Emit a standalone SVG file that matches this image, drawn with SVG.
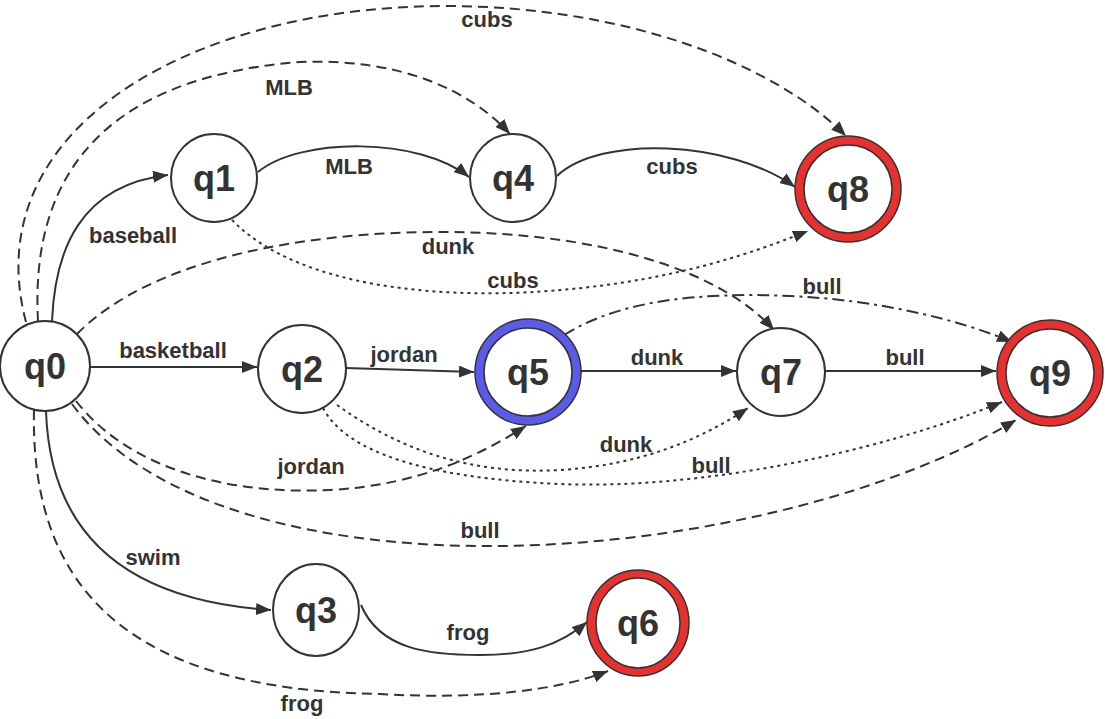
<svg xmlns="http://www.w3.org/2000/svg" width="1105" height="719" viewBox="0 0 1105 719">
<style>
.e{fill:none;stroke:#333;stroke-width:2;marker-end:url(#ah)}
.da{stroke-dasharray:10 6}
.dt{stroke-dasharray:3 4}
.dd{stroke-dasharray:12 5 3 5}
.n{fill:#fff;stroke:#333;stroke-width:2}
.o{stroke:#333;stroke-width:1.5}
.nt{font-family:"Liberation Sans",Arial,sans-serif;font-weight:bold;font-size:36px;fill:#333;text-anchor:middle}
.lt{font-family:"Liberation Sans",Arial,sans-serif;font-weight:bold;font-size:22px;fill:#333;text-anchor:middle}
</style>
<defs>
<marker id="ah" markerUnits="userSpaceOnUse" markerWidth="16" markerHeight="12" refX="15" refY="6" orient="auto">
<path d="M0,0 L15,6 L0,12 z" fill="#333"/>
</marker>
</defs>
<rect width="1105" height="719" fill="#fff"/>
<g id="edges">
<path class="e" d="M52 321 C55 250 80 185 168 175"/>
<path class="e" d="M258 172 C300 137 420 137 469 177"/>
<path class="e" d="M557 176 C600 135 730 140 795 187"/>
<path class="e da" d="M38 321 C32 210 70 80 300 62 C400 58 470 90 510 134"/>
<path class="e da" d="M26 322 C-25 130 190 5 450 6 C620 7 770 60 846 136"/>
<path class="e dt" d="M232 220 C300 290 450 300 560 290 C680 280 760 250 808 231"/>
<path class="e da" d="M77 334 C150 260 300 232 440 232 C600 232 720 270 774 330"/>
<path class="e" d="M90 367 L257 367"/>
<path class="e" d="M346 368 L474 372"/>
<path class="e" d="M581 371 L736 371"/>
<path class="e" d="M825 371 L996 371"/>
<path class="e dd" d="M564 335 C620 300 700 292 790 296 C880 300 960 320 1012 342"/>
<path class="e da" d="M76 401 C130 470 230 495 330 490 C420 485 480 455 526 426"/>
<path class="e dt" d="M337 405 C400 450 470 475 560 470 C640 465 700 440 748 408"/>
<path class="e dt" d="M323 408 C345 450 420 478 560 484 C700 490 880 452 1002 402"/>
<path class="e da" d="M72 404 C150 510 330 548 500 546 C700 544 900 490 1016 420"/>
<path class="e" d="M46 411 C50 530 120 600 271 610"/>
<path class="e" d="M361 605 C380 650 430 655 480 655 C530 655 560 645 587 622"/>
<path class="e da" d="M34 410 C30 590 130 690 380 694 C480 700 560 690 608 671"/>
</g>
<g id="labels">
<text class="lt" x="487" y="27">cubs</text>
<text class="lt" x="289" y="95">MLB</text>
<text class="lt" x="349" y="174">MLB</text>
<text class="lt" x="672" y="174">cubs</text>
<text class="lt" x="133" y="243">baseball</text>
<text class="lt" x="448" y="254">dunk</text>
<text class="lt" x="513" y="288">cubs</text>
<text class="lt" x="822" y="294">bull</text>
<text class="lt" x="173" y="358">basketball</text>
<text class="lt" x="404" y="362">jordan</text>
<text class="lt" x="657" y="365">dunk</text>
<text class="lt" x="905" y="365">bull</text>
<text class="lt" x="626" y="452">dunk</text>
<text class="lt" x="311" y="474">jordan</text>
<text class="lt" x="711" y="473">bull</text>
<text class="lt" x="480" y="538">bull</text>
<text class="lt" x="153" y="565">swim</text>
<text class="lt" x="468" y="640">frog</text>
<text class="lt" x="302" y="711">frog</text>
</g>
<g id="q0"><circle class="n" cx="45" cy="366" r="45"/><text class="nt" x="45" y="379">q0</text></g>
<g id="q1"><ellipse class="n" cx="214" cy="178" rx="43" ry="44"/><text class="nt" x="214" y="191">q1</text></g>
<g id="q4"><ellipse class="n" cx="513" cy="178" rx="43" ry="44"/><text class="nt" x="513" y="191">q4</text></g>
<g id="q8"><circle class="o" cx="848" cy="189" r="53" fill="#e8312f"/><circle class="o" cx="848" cy="189" r="44" fill="#fff"/><text class="nt" x="848" y="202">q8</text></g>
<g id="q2"><circle class="n" cx="302" cy="369" r="44"/><text class="nt" x="302" y="382">q2</text></g>
<g id="q5"><circle class="o" cx="528" cy="372" r="53" fill="#5b5bea"/><circle class="o" cx="528" cy="372" r="44" fill="#fff"/><text class="nt" x="528" y="385">q5</text></g>
<g id="q7"><circle class="n" cx="781" cy="372" r="44"/><text class="nt" x="781" y="385">q7</text></g>
<g id="q9"><circle class="o" cx="1050" cy="373" r="53" fill="#e8312f"/><circle class="o" cx="1050" cy="373" r="44" fill="#fff"/><text class="nt" x="1050" y="386">q9</text></g>
<g id="q3"><ellipse class="n" cx="316" cy="610" rx="43" ry="46"/><text class="nt" x="316" y="623">q3</text></g>
<g id="q6"><ellipse class="o" cx="638" cy="623" rx="51" ry="53" fill="#e8312f"/><ellipse class="o" cx="638" cy="623" rx="42" ry="45" fill="#fff"/><text class="nt" x="638" y="636">q6</text></g>
</svg>
